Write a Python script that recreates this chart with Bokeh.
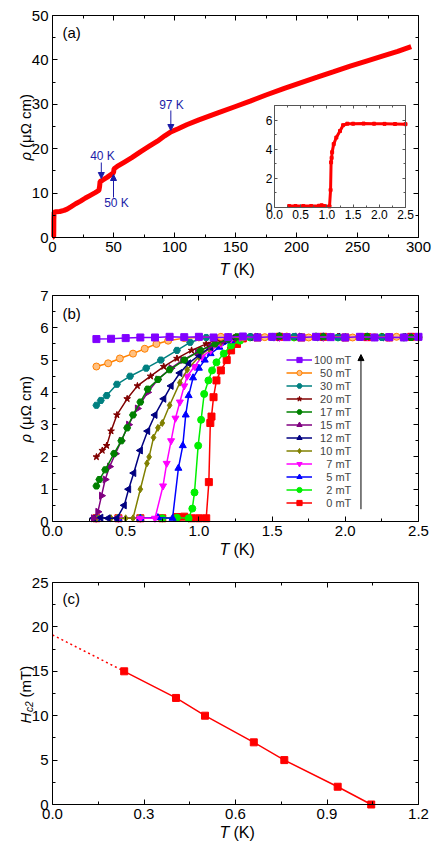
import numpy as np
from bokeh.plotting import figure
from bokeh.models import (Range1d, LinearAxis, FixedTicker, Label, Arrow, NormalHead, Legend,
                          LegendItem, NumeralTickFormatter)
from bokeh.layouts import column
from bokeh.embed import file_html
from bokeh.resources import INLINE

FONT = "Liberation Sans"

# ---------------- data: panel (a) ----------------
T_a = [0.3, 0.6, 0.9, 1.0, 1.05, 1.1, 1.3, 3, 6, 9.5, 12, 15, 19, 23, 27, 31, 35, 38, 38.6, 39,
       41, 45, 48, 50, 50.5, 53, 59, 65, 72, 79, 86, 92, 97, 103, 110, 120, 135, 150, 162, 175,
       190, 205, 217, 230, 244, 258, 271, 283, 294]
rho_a = [0.1, 0.1, 0.1, 0.4, 1.2, 4.0, 5.7, 5.8, 5.85, 6.1, 6.4, 6.9, 7.6, 8.2, 8.9, 9.5, 10.1,
         10.6, 11.5, 12.6, 12.9, 13.6, 14.2, 14.6, 15.5, 16.0, 17.0, 18.0, 19.3, 20.5, 21.7, 22.9,
         23.8, 24.5, 25.4, 26.5, 28.0, 29.5, 30.7, 32.1, 33.6, 35.0, 36.1, 37.3, 38.6, 39.8, 40.9,
         41.9, 43.0]
T_inset = [0.28, 0.4, 0.55, 0.7, 0.85, 0.9, 0.95, 1.05, 1.07, 1.08, 1.09, 1.10, 1.13, 1.18,
           1.25, 1.31, 1.39, 1.5, 1.7, 1.9, 2.1, 2.3, 2.5]
rho_inset = [0.1, 0.1, 0.1, 0.1, 0.12, 0.15, 0.1, 0.08, 1.2, 3.1, 3.4, 3.8, 4.35, 4.8, 5.25,
             5.65, 5.75, 5.75, 5.76, 5.75, 5.74, 5.73, 5.72]
anomaly_T = [40, 50, 97]
anomaly_labels = ["40 K", "50 K", "97 K"]

# ---------------- data: panel (b) ----------------
T_0 = [0.30, 0.45, 0.60, 0.75, 0.85, 0.90, 0.95, 1.00, 1.05, 1.068, 1.078, 1.086, 1.10, 1.12,
       1.15, 1.19, 1.22, 1.26, 1.30, 1.40, 1.55, 1.70, 1.85, 2.00, 2.15, 2.30, 2.45]
R_0 = [0.10, 0.10, 0.10, 0.10, 0.14, 0.15, 0.10, 0.10, 0.10, 1.22, 3.05, 3.25, 3.85, 4.37,
       4.68, 5.00, 5.30, 5.50, 5.67, 5.70, 5.72, 5.70, 5.72, 5.70, 5.71, 5.70, 5.72]
T_2 = [0.30, 0.45, 0.60, 0.75, 0.85, 0.93, 0.955, 0.97, 0.995, 1.015, 1.036, 1.065, 1.09, 1.12,
       1.17, 1.22, 1.28, 1.35, 1.50, 1.65, 1.80, 1.95, 2.10, 2.25, 2.40, 2.50]
R_2 = [0.10, 0.10, 0.10, 0.10, 0.12, 0.10, 0.40, 0.90, 2.35, 3.15, 3.95, 4.37, 4.68, 4.93,
       5.20, 5.45, 5.60, 5.70, 5.72, 5.70, 5.73, 5.70, 5.71, 5.72, 5.70, 5.71]
T_5 = [0.30, 0.45, 0.60, 0.72, 0.82, 0.86, 0.89, 0.91, 0.93, 0.96, 1.00, 1.04, 1.08, 1.14,
       1.22, 1.28, 1.40, 1.55, 1.70, 1.85, 2.00, 2.15, 2.30, 2.45]
R_5 = [0.10, 0.10, 0.10, 0.12, 0.10, 1.65, 2.35, 3.30, 3.90, 4.45, 4.75, 5.00, 5.20, 5.40,
       5.60, 5.70, 5.71, 5.73, 5.70, 5.72, 5.70, 5.72, 5.71, 5.70]
T_7 = [0.30, 0.45, 0.60, 0.70, 0.755, 0.78, 0.81, 0.84, 0.87, 0.90, 0.92, 0.97, 1.02, 1.08,
       1.15, 1.22, 1.28, 1.40, 1.55, 1.70, 1.85, 2.00, 2.15, 2.30, 2.45]
R_7 = [0.10, 0.10, 0.10, 0.10, 1.10, 1.80, 2.50, 3.20, 3.70, 4.20, 4.50, 4.80, 5.10, 5.30,
       5.50, 5.65, 5.70, 5.72, 5.70, 5.73, 5.70, 5.71, 5.72, 5.70, 5.72]
T_10 = [0.30, 0.40, 0.50, 0.55, 0.60, 0.645, 0.66, 0.69, 0.72, 0.75, 0.80, 0.87, 0.92, 1.00,
        1.07, 1.15, 1.24, 1.35, 1.50, 1.65, 1.80, 1.95, 2.10, 2.25, 2.40]
R_10 = [0.10, 0.10, 0.10, 0.10, 1.00, 1.80, 2.00, 2.60, 2.90, 3.05, 3.60, 4.30, 4.70, 5.10,
        5.35, 5.55, 5.70, 5.71, 5.72, 5.70, 5.73, 5.70, 5.72, 5.70, 5.71]
T_12 = [0.28, 0.33, 0.38, 0.44, 0.49, 0.52, 0.555, 0.60, 0.65, 0.70, 0.76, 0.81, 0.87, 0.93,
        1.00, 1.08, 1.17, 1.24, 1.35, 1.50, 1.65, 1.80, 1.95, 2.10, 2.25, 2.40]
R_12 = [0.10, 0.12, 0.10, 0.10, 0.50, 1.00, 1.50, 2.20, 2.80, 3.30, 3.80, 4.20, 4.60, 4.90,
        5.15, 5.40, 5.60, 5.70, 5.71, 5.70, 5.73, 5.70, 5.72, 5.71, 5.70, 5.72]
T_15 = [0.28, 0.31, 0.335, 0.36, 0.39, 0.43, 0.47, 0.52, 0.58, 0.65, 0.72, 0.81, 0.89, 0.99,
        1.08, 1.17, 1.26, 1.40, 1.55, 1.70, 1.85, 2.00, 2.15, 2.30, 2.45]
R_15 = [0.10, 0.30, 0.80, 1.30, 1.70, 2.10, 2.50, 3.00, 3.50, 4.00, 4.40, 4.75, 5.00, 5.25,
        5.45, 5.60, 5.70, 5.72, 5.70, 5.73, 5.71, 5.70, 5.72, 5.70, 5.71]
T_17 = [0.30, 0.32, 0.36, 0.42, 0.47, 0.51, 0.55, 0.60, 0.65, 0.72, 0.80, 0.90, 1.01, 1.11,
        1.20, 1.26, 1.40, 1.55, 1.70, 1.85, 2.00, 2.15, 2.30, 2.45]
R_17 = [1.10, 1.30, 1.60, 2.10, 2.50, 2.90, 3.30, 3.70, 4.10, 4.40, 4.70, 5.00, 5.30, 5.50,
        5.65, 5.72, 5.70, 5.74, 5.71, 5.72, 5.70, 5.73, 5.71, 5.70]
T_20 = [0.30, 0.34, 0.37, 0.40, 0.44, 0.51, 0.58, 0.67, 0.76, 0.85, 0.95, 1.05, 1.13, 1.20,
        1.35, 1.50, 1.65, 1.80, 1.95, 2.10, 2.25, 2.40]
R_20 = [2.00, 2.20, 2.35, 2.80, 3.30, 3.80, 4.20, 4.50, 4.80, 5.05, 5.30, 5.50, 5.65, 5.72,
        5.73, 5.70, 5.72, 5.71, 5.73, 5.70, 5.72, 5.71]
T_30 = [0.30, 0.33, 0.37, 0.44, 0.53, 0.64, 0.74, 0.85, 0.94, 1.05, 1.20, 1.35, 1.50, 1.65,
        1.80, 1.95, 2.10, 2.25, 2.40]
R_30 = [3.60, 3.75, 3.90, 4.25, 4.50, 4.75, 5.00, 5.30, 5.55, 5.70, 5.71, 5.72, 5.70, 5.73,
        5.71, 5.70, 5.72, 5.70, 5.71]
T_50 = [0.30, 0.38, 0.46, 0.55, 0.63, 0.71, 0.79, 0.90, 1.00, 1.15, 1.30, 1.45, 1.60, 1.75,
        1.90, 2.05, 2.20, 2.35, 2.50]
R_50 = [4.80, 4.90, 5.05, 5.20, 5.35, 5.50, 5.60, 5.68, 5.70, 5.72, 5.70, 5.71, 5.73, 5.70,
        5.72, 5.70, 5.71, 5.72, 5.70]
T_100 = [0.30, 0.40, 0.50, 0.60, 0.70, 0.80, 0.90, 1.00, 1.10, 1.20, 1.30, 1.40, 1.50, 1.60,
         1.70, 1.80, 1.90, 2.00, 2.10, 2.20, 2.30, 2.40, 2.50]
R_100 = [5.65, 5.66, 5.68, 5.70, 5.70, 5.72, 5.71, 5.72, 5.70, 5.71, 5.73, 5.70, 5.72, 5.71,
         5.70, 5.72, 5.71, 5.70, 5.72, 5.70, 5.71, 5.70, 5.72]
field_labels = ["0 mT", "2 mT", "5 mT", "7 mT", "10 mT", "12 mT", "15 mT", "17 mT", "20 mT",
                "30 mT", "50 mT", "100 mT"]

# ---------------- data: panel (c) ----------------
T_c = [0.235, 0.405, 0.50, 0.66, 0.76, 0.935, 1.045]
Hc2 = [15, 12, 10, 7, 5, 2, 0]
T_ext = [0.0, 0.235]
H_ext = [19.1, 15.0]

# tick values
XT_A = [0, 50, 100, 150, 200, 250, 300]
YT_A = [0, 10, 20, 30, 40, 50]
XT_B = [0.0, 0.5, 1.0, 1.5, 2.0, 2.5]
YT_B = [0, 1, 2, 3, 4, 5, 6, 7]
XT_C = [0.0, 0.3, 0.6, 0.9, 1.2]
YT_C = [0, 5, 10, 15, 20, 25]
XT_IN = [0.0, 0.5, 1.0, 1.5, 2.0, 2.5]
YT_IN = [0, 2, 4, 6]

W = 436


def mids(t):
    return [(a + b) / 2 for a, b in zip(t[:-1], t[1:])]


class Box:
    """Maps canvas pixels of a figure to data values for a plot box."""
    def __init__(self, Wc, Hc, L, R, T, B, xr, yr):
        self.L, self.R, self.T, self.B = L, R, T, B
        self.x0, self.x1 = xr
        self.y0, self.y1 = yr
        self.sx = (R - L) / (self.x1 - self.x0)
        self.sy = (B - T) / (self.y1 - self.y0)
        self.full_x = (self.x0 - L / self.sx, self.x1 + (Wc - R) / self.sx)
        self.full_y = (self.y0 - (Hc - B) / self.sy, self.y1 + T / self.sy)

    def X(self, px):
        return self.x0 + (px - self.L) / self.sx

    def Y(self, py):
        return self.y0 + (self.B - py) / self.sy


def box_axes(p, box, xt, yt, xfmt=None, yfmt=None, size="15px", color="black", tin=5, tmin=3,
             standoff=4, xr_name="default", yr_name="default", yminor=None):
    xtk = FixedTicker(ticks=xt, minor_ticks=mids(xt))
    ytk = FixedTicker(ticks=yt, minor_ticks=(yminor if yminor is not None else mids(yt)))
    spec = [("below", box.y0, xtk, (box.x0, box.x1), True),
            ("above", box.y1, xtk, (box.x0, box.x1), False),
            ("left", box.x0, ytk, (box.y0, box.y1), True),
            ("right", box.x1, ytk, (box.y0, box.y1), False)]
    for loc, fixed, tk, bnd, show in spec:
        ax = LinearAxis(fixed_location=fixed, ticker=tk, bounds=bnd,
                        x_range_name=xr_name, y_range_name=yr_name)
        ax.axis_line_color = color
        ax.major_tick_line_color = color
        ax.minor_tick_line_color = color
        ax.major_tick_in = tin
        ax.major_tick_out = 0
        ax.minor_tick_in = tmin
        ax.minor_tick_out = 0
        ax.major_label_text_font = FONT
        ax.major_label_text_font_size = size
        ax.major_label_text_color = "black"
        ax.major_label_standoff = standoff
        if not show:
            ax.major_label_text_alpha = 0
        if loc in ("below", "above") and xfmt:
            ax.formatter = NumeralTickFormatter(format=xfmt)
        if loc in ("left", "right") and yfmt:
            ax.formatter = NumeralTickFormatter(format=yfmt)
        p.add_layout(ax, loc)


def make_fig(height, box):
    p = figure(width=W, height=height, output_backend="svg", toolbar_location=None,
               title=None, x_axis_location=None, y_axis_location=None,
               x_range=Range1d(*box.full_x), y_range=Range1d(*box.full_y),
               min_border_left=0, min_border_right=0, min_border_top=0, min_border_bottom=0)
    p.grid.visible = False
    p.outline_line_color = None
    p.background_fill_color = "white"
    p.border_fill_color = "white"
    return p


def lab(p, x, y, text, size="15px", style="normal", align="left", angle=0, color="black",
        baseline="middle"):
    p.add_layout(Label(x=x, y=y, text=text, text_font=FONT, text_font_size=size,
                       text_font_style=style, text_align=align, text_baseline=baseline,
                       angle=angle, angle_units="deg", text_color=color))


YLAB_X = 25


def rho_label(p, box):
    cy = (box.T + box.B) / 2
    bottom = cy + 34
    lab(p, box.X(YLAB_X), box.Y(bottom), "ρ", size="15px", style="italic", angle=90)
    lab(p, box.X(YLAB_X), box.Y(bottom - 12.5), "(μΩ cm)", size="15px", angle=90)


def t_label(p, box, py):
    lab(p, box.X(219), box.Y(py), "T", size="16px", style="italic")
    lab(p, box.X(233), box.Y(py), "(K)", size="16px")


# ================= panel (a) =================
HA = 280
bA = Box(W, HA, 52, 418, 15, 237, (0, 300), (0, 50))
pa = make_fig(HA, bA)
box_axes(pa, bA, XT_A, YT_A)
pa.line(T_a, rho_a, line_color="red", line_width=5)

ANN = "#1c1ca8"
arrow_px = {40: (162, 178, 102, 155), 50: (197, 174, 116, 202), 97: (110, 130, 171, 104)}
for t, txt in zip(anomaly_T, anomaly_labels):
    y0p, y1p, tx, ty = arrow_px[t]
    pa.add_layout(Arrow(end=NormalHead(size=6, fill_color=ANN, line_color=ANN),
                        x_start=t, y_start=bA.Y(y0p), x_end=t, y_end=bA.Y(y1p),
                        line_color=ANN, line_width=1))
    lab(pa, bA.X(tx), bA.Y(ty), txt, size="12px", align="center", color=ANN)

# inset via extra ranges mapped to a sub-box of the canvas
bI = Box(W, HA, 274, 405, 105, 207, (0, 2.5), (0, 7))
pa.extra_x_ranges = {"ix": Range1d(*bI.full_x)}
pa.extra_y_ranges = {"iy": Range1d(*bI.full_y)}
pa.quad(left=[0], right=[2.5], bottom=[0], top=[7], fill_color="white", line_color=None,
        x_range_name="ix", y_range_name="iy")
pa.line(T_inset, rho_inset, line_color="red", line_width=3, x_range_name="ix",
        y_range_name="iy")
pa.scatter(T_inset, rho_inset, marker="square", size=3, color="red", x_range_name="ix",
           y_range_name="iy")
box_axes(pa, bI, XT_IN, YT_IN, xfmt="0.0", size="12px", color="#555555", tin=3, tmin=2,
         standoff=2, xr_name="ix", yr_name="iy", yminor=[1, 3, 5, 7])

lab(pa, bA.X(62), bA.Y(32), "(a)", size="15px")
rho_label(pa, bA)
t_label(pa, bA, 269)

# ================= panel (b) =================
HB = 280
bB = Box(W, HB, 52, 418, 15, 241, (0, 2.5), (0, 7))
pb = make_fig(HB, bB)
box_axes(pb, bB, XT_B, YT_B, xfmt="0.0")

series = [
    (T_0, R_0, "#FF0000", "square", 0, "#FF0000"),
    (T_2, R_2, "#00F000", "circle", 0, "#00F000"),
    (T_5, R_5, "#0000FF", "triangle", 0, "#0000FF"),
    (T_7, R_7, "#FF00FF", "inverted_triangle", 0, "#FF00FF"),
    (T_10, R_10, "#808000", "diamond", 0, "#808000"),
    (T_12, R_12, "#000080", "triangle", np.pi / 2, "#000080"),
    (T_15, R_15, "#800080", "triangle", -np.pi / 2, "#800080"),
    (T_17, R_17, "#008000", "hex", 0, "#008000"),
    (T_20, R_20, "#800000", "star", 0, "#800000"),
    (T_30, R_30, "#008080", "hex", 0, "#008080"),
    (T_50, R_50, "#FF8000", "circle", 0, "#FFC080"),
    (T_100, R_100, "#8000FF", "square", 0, "#8000FF"),
]
items = []
for (t, r, col, mk, ang, fill), name in zip(series, field_labels):
    l = pb.line(t, r, line_color=col, line_width=1.5)
    s = pb.scatter(t, r, marker=mk, size=7, angle=ang, line_color=col, fill_color=fill)
    digits = len(name.split()[0])
    pad = "\u00a0\u00a0" * (3 - digits)
    items.append(LegendItem(label=pad + name, renderers=[l, s]))

legend = Legend(items=list(reversed(items)), location=(286, 51), padding=0, margin=0,
                spacing=0, glyph_height=13, label_height=13, glyph_width=26,
                label_standoff=2, label_text_font=FONT, label_text_font_size="11px",
                border_line_color=None, background_fill_alpha=0)
pb.add_layout(legend)
pb.add_layout(Arrow(end=NormalHead(size=6, fill_color="black", line_color="black"),
                    x_start=2.107, y_start=0.38, x_end=2.107, y_end=5.17,
                    line_color="black", line_width=1))
lab(pb, bB.X(62), bB.Y(33), "(b)", size="15px")
rho_label(pb, bB)
t_label(pb, bB, 269)

# ================= panel (c) =================
HC = 288
bC = Box(W, HC, 52, 418, 22, 244, (0, 1.2), (0, 25))
pc = make_fig(HC, bC)
box_axes(pc, bC, XT_C, YT_C, xfmt="0.0")
pc.line(T_ext, H_ext, line_color="red", line_width=1.5, line_dash="2 3")
pc.line(T_c, Hc2, line_color="red", line_width=1.5)
pc.scatter(T_c, Hc2, marker="square", size=7, color="red")
lab(pc, bC.X(62), bC.Y(38), "(c)", size="15px")
cy = (bC.T + bC.B) / 2
bot = cy + 30
lab(pc, bC.X(YLAB_X), bC.Y(bot), "H", size="15px", style="italic", angle=90)
lab(pc, bC.X(YLAB_X + 4), bC.Y(bot - 11.5), "c2", size="10px", style="italic", angle=90)
lab(pc, bC.X(YLAB_X), bC.Y(bot - 26), "(mT)", size="15px", angle=90)
t_label(pc, bC, 272)

root = column(pa, pb, pc, spacing=0)
open("out.html", "w").write(file_html(root, INLINE))
